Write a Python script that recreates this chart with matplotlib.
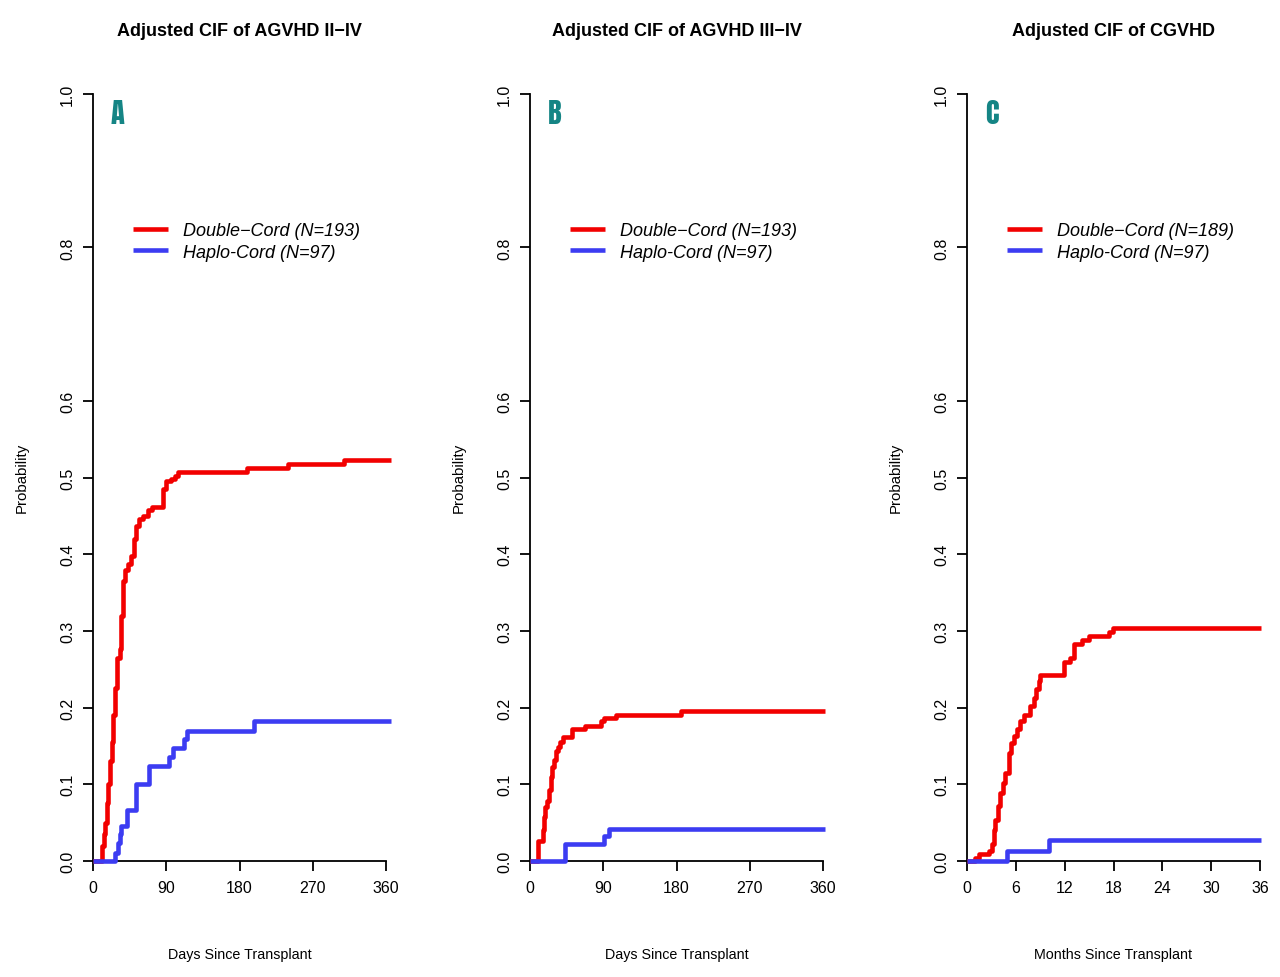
import matplotlib
matplotlib.use("Agg")
import matplotlib.pyplot as plt

plt.rcParams['font.family'] = ['Liberation Sans', 'DejaVu Sans']

# ---------------- data ----------------
titles = ["Adjusted CIF of AGVHD II\u2212IV", "Adjusted CIF of AGVHD III\u2212IV", "Adjusted CIF of CGVHD"]
panel_letters = ["A", "B", "C"]
xlabels = ["Days Since Transplant", "Days Since Transplant", "Months Since Transplant"]
xticks_list = [[0, 90, 180, 270, 360], [0, 90, 180, 270, 360], [0, 6, 12, 18, 24, 30, 36]]
yticks = [0.0, 0.1, 0.2, 0.3, 0.4, 0.5, 0.6, 0.8, 1.0]
ytick_labels = ["0.0", "0.1", "0.2", "0.3", "0.4", "0.5", "0.6", "0.8", "1.0"]

legend_double = ["Double\u2212Cord (N=193)", "Double\u2212Cord (N=193)", "Double\u2212Cord (N=189)"]
legend_haplo = ["Haplo-Cord (N=97)", "Haplo-Cord (N=97)", "Haplo-Cord (N=97)"]

# Panel A (days)
a_red_t = [0, 11, 13, 15, 17, 19, 21, 23, 25, 27, 29, 33, 35, 37, 39, 43, 47, 50, 53, 56, 62, 68, 72, 86, 90, 96, 101, 105, 189, 240, 308, 366]
a_red_v = [0, 0.020, 0.035, 0.050, 0.075, 0.100, 0.130, 0.155, 0.190, 0.225, 0.265, 0.276, 0.320, 0.365, 0.380, 0.387, 0.398, 0.420, 0.437, 0.446, 0.450, 0.457, 0.462, 0.485, 0.496, 0.498, 0.502, 0.507, 0.512, 0.517, 0.523, 0.523]
a_blue_t = [0, 27.4, 30.3, 32.8, 34.4, 41.8, 53.2, 68.4, 93, 98.3, 111.4, 115.5, 197.4, 366]
a_blue_v = [0, 0.011, 0.024, 0.035, 0.046, 0.067, 0.101, 0.124, 0.135, 0.147, 0.159, 0.170, 0.183, 0.183]

# Panel B (days)
b_red_t = [0, 9.4, 15.6, 17.6, 18.9, 20.5, 23, 25.8, 27, 30, 32, 34, 37, 40, 51.7, 68, 87.3, 91.4, 105.8, 185.7, 362]
b_red_v = [0, 0.026, 0.041, 0.058, 0.071, 0.078, 0.093, 0.110, 0.123, 0.132, 0.143, 0.149, 0.155, 0.162, 0.172, 0.176, 0.182, 0.186, 0.191, 0.196, 0.196]
b_blue_t = [0, 43, 91.4, 97.6, 362]
b_blue_v = [0, 0.0216, 0.032, 0.042, 0.042]

# Panel C (months)
c_red_t = [0, 1.03, 1.44, 2.67, 3.08, 3.3, 3.5, 3.82, 4.1, 4.4, 4.72, 5.13, 5.46, 5.75, 6.16, 6.57, 6.98, 7.8, 8.2, 8.5, 8.8, 9.03, 11.9, 12.7, 13.1, 14.08, 15.0, 17.45, 17.9, 36.1]
c_red_v = [0, 0.004, 0.0087, 0.013, 0.022, 0.041, 0.054, 0.072, 0.089, 0.102, 0.115, 0.141, 0.154, 0.163, 0.172, 0.183, 0.191, 0.202, 0.213, 0.224, 0.235, 0.242, 0.259, 0.265, 0.283, 0.288, 0.294, 0.298, 0.304, 0.304]
c_blue_t = [0, 4.93, 10.06, 36.1]
c_blue_v = [0, 0.013, 0.027, 0.027]

red_series = [(a_red_t, a_red_v), (b_red_t, b_red_v), (c_red_t, c_red_v)]
blue_series = [(a_blue_t, a_blue_v), (b_blue_t, b_blue_v), (c_blue_t, c_blue_v)]
xmax_list = [360, 360, 36]

RED = "#f20000"
BLUE = "#3c3cf2"
TEAL = "#158585"
LW = 3.3

fig = plt.figure(figsize=(12.8, 9.78), dpi=100)
W, H = 1280, 978
lefts_px = [93, 530, 967]
axis_len_px = 293.0
y0_px, y1_px = 862, 95
unit_px = (y0_px - y1_px) / 1.0
ytop = 1.02

for i in range(3):
    xmax = xmax_list[i]
    xr = xmax * 1.035
    width_px = axis_len_px * 1.035
    hpx = ytop * unit_px
    ax = fig.add_axes([lefts_px[i] / W, (H - y0_px) / H, width_px / W, hpx / H])
    ax.set_xlim(0, xr)
    ax.set_ylim(0, ytop)

    for s in ["top", "right"]:
        ax.spines[s].set_visible(False)
    ax.spines["left"].set_bounds(0, 1.0)
    ax.spines["bottom"].set_bounds(0, xmax)
    for s in ["left", "bottom"]:
        ax.spines[s].set_linewidth(1.3)

    t, v = red_series[i]
    ax.step(t, v, where="post", color=RED, lw=LW, clip_on=False, zorder=3,
            label=legend_double[i], solid_capstyle="butt")
    t, v = blue_series[i]
    ax.step(t, v, where="post", color=BLUE, lw=LW, clip_on=False, zorder=4,
            label=legend_haplo[i], solid_capstyle="butt")

    ax.set_xticks(xticks_list[i])
    ax.set_xticklabels([str(x) for x in xticks_list[i]], fontsize=11.5)
    ax.set_yticks(yticks)
    ax.set_yticklabels(ytick_labels, fontsize=11.5, rotation=90, va="center")
    ax.tick_params(axis="both", direction="out", length=7, width=1.3, pad=7)
    ax.tick_params(axis="y", pad=6)

    ax.set_xlabel(xlabels[i], fontsize=10.3)
    ax.xaxis.set_label_coords(146.5 / width_px, -(948 - y0_px) / hpx)

    fig.text((22 + lefts_px[i] - 93) / W, 1 - 478 / H, "Probability", rotation=90,
             ha="center", va="center", fontsize=10.8)

    ax.text(146.5 / width_px, (y0_px - 31.5) / hpx, titles[i],
            transform=ax.transAxes, ha="center", va="center", fontsize=13, fontweight="bold")

    ax.text(25 / width_px, (y0_px - 114) / hpx, panel_letters[i],
            transform=ax.transAxes, ha="center", va="center", fontsize=20.5,
            color=TEAL, family=["Anton", "Oswald", "Barlow Condensed", "DejaVu Sans"])

    leg = ax.legend(loc="upper left", bbox_to_anchor=(40 / width_px, (y0_px - 223) / hpx),
                    frameon=False, borderpad=0, borderaxespad=0, handlelength=1.95,
                    handletextpad=0.8, labelspacing=0.25,
                    prop={"size": 13, "style": "italic"})
    for line in leg.get_lines():
        line.set_linewidth(LW)

fig.savefig("out.png", dpi=100)
